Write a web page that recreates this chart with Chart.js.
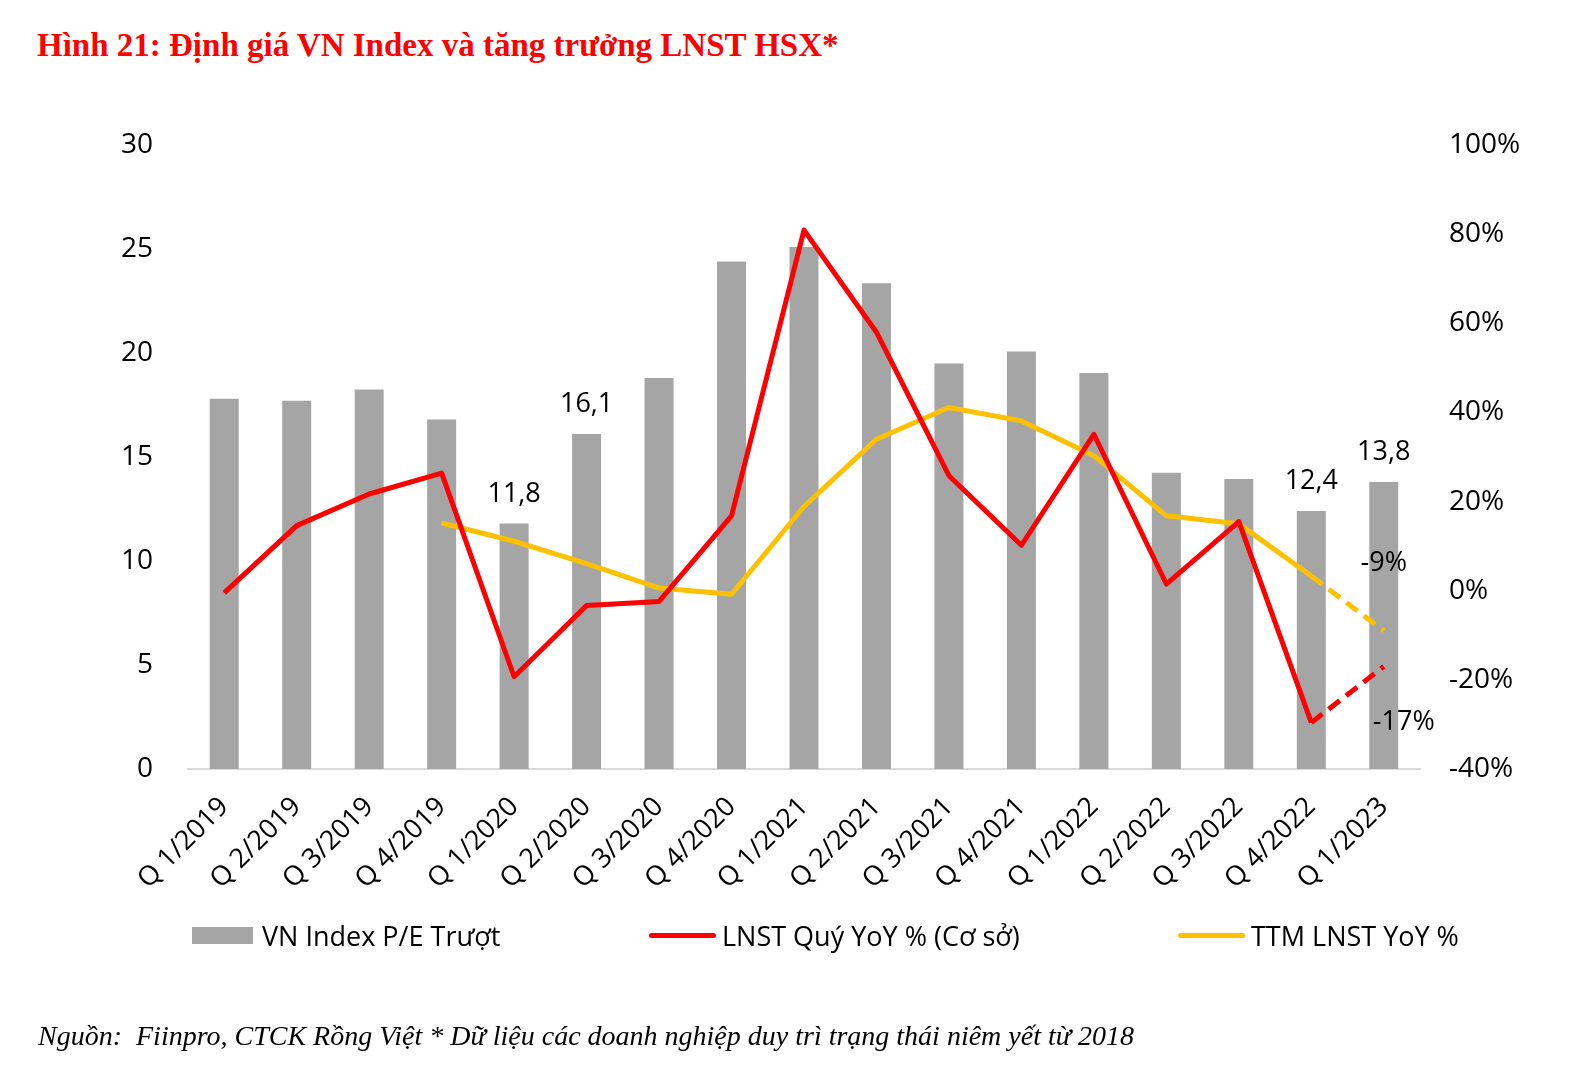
<!DOCTYPE html>
<html>
<head>
<meta charset="utf-8">
<script src="https://cdn.jsdelivr.net/npm/chart.js@4.4.1/dist/chart.umd.min.js"></script>
<style>
  body { margin: 0; background: #fff; overflow: hidden; }
  #khung { position: relative; width: 1596px; height: 1086px; }
  #tieuDe { position: absolute; left: 37px; top: 27px; font: bold 33px "Liberation Serif", serif; color: #ff0000; white-space: nowrap; }
  #nguon { position: absolute; left: 38px; top: 1020px; font: italic 28px "Liberation Serif", serif; color: #000; white-space: nowrap; }
  #chuGiai .muc { position: absolute; top: 916px; height: 38px; display: flex; align-items: center; font: 27px "Open Sans", sans-serif; color: #000; white-space: nowrap; }
  canvas { position: absolute; left: 0; top: 0; }
</style>
</head>
<body>
<div id="khung">
  <div id="tieuDe">Hình 21: Định giá VN Index và tăng trưởng LNST HSX*</div>
  <canvas id="bieuDo" width="1596" height="1086"></canvas>
  <div id="chuGiai"></div>
  <div id="nguon">Nguồn:&nbsp; Fiinpro, CTCK Rồng Việt * Dữ liệu các doanh nghiệp duy trì trạng thái niêm yết từ 2018</div>
</div>
<script>
// Cac quy
var quy = ['Q 1/2019', 'Q 2/2019', 'Q 3/2019', 'Q 4/2019', 'Q 1/2020', 'Q 2/2020', 'Q 3/2020', 'Q 4/2020',
           'Q 1/2021', 'Q 2/2021', 'Q 3/2021', 'Q 4/2021', 'Q 1/2022', 'Q 2/2022', 'Q 3/2022', 'Q 4/2022', 'Q 1/2023'];

// P/E truot (truc trai)
var peTruot = [17.8, 17.7, 18.25, 16.8, 11.8, 16.1, 18.8, 24.4, 25.1, 23.35, 19.5, 20.07, 19.04, 14.24, 13.94, 12.4, 13.8];

// LNST quy YoY % (truc phai)
var lnstQuy = [-0.5, 14.6, 21.7, 26.4, -19.3, -3.3, -2.4, 16.8, 80.9, 58, 25.8, 10.2, 35.1, 1.5, 15.5, -29.6, -17];

// TTM LNST YoY %
var lnstTTM = [null, null, null, 15.2, 11.1, 6.1, 0.6, -0.8, 18.9, 34, 41.1, 38.1, 30.3, 16.8, 15, 3.3, -9];

// Nhan cot
var cotCoNhan = [4, 5, 15, 16];

var tenCot = 'VN Index P/E Trượt';
var tenQuy = 'LNST Quý YoY % (Cơ sở)';
var tenTTM = 'TTM LNST YoY %';

var mauCot = '#a5a5a5';
var mauDo = '#ff0000';
var mauVang = '#ffc000';

var fontChu = '"Open Sans", sans-serif';

// doan cuoi la net dut
function netDut(ctx) {
    return ctx.p1DataIndex === quy.length - 1 ? [14, 8] : undefined;
}

function soVN(v) {
    return String(v).replace('.', ',');
}

// plugin ve nhan so lieu
var nhanSoLieu = {
    id: 'nhanSoLieu',
    afterDatasetsDraw: function(chart) {
        var ctx = chart.ctx;
        ctx.save();
        ctx.fillStyle = '#000';
        ctx.font = '27px ' + fontChu;
        ctx.textAlign = 'center';
        ctx.textBaseline = 'alphabetic';

        var metaCot = chart.getDatasetMeta(2);
        for (let i = 0; i < cotCoNhan.length; i++) {
            let el = metaCot.data[cotCoNhan[i]];
            ctx.fillText(soVN(peTruot[cotCoNhan[i]]), el.x, el.y - 22);
        }

        var cuoi = quy.length - 1;
        ctx.textBaseline = 'middle';
        var diemVang = chart.getDatasetMeta(1).data[cuoi];
        ctx.fillText(lnstTTM[cuoi] + '%', diemVang.x, diemVang.y - 68);
        var diemDo = chart.getDatasetMeta(0).data[cuoi];
        ctx.fillText(lnstQuy[cuoi] + '%', diemDo.x + 20, diemDo.y + 56);
        ctx.restore();
    }
};

var chart = new Chart(document.getElementById('bieuDo'), {
    data: {
        labels: quy,
        datasets: [
            {
                type: 'line',
                label: tenQuy,
                data: lnstQuy,
                yAxisID: 'y1',
                borderColor: mauDo,
                borderWidth: 5,
                borderJoinStyle: 'round',
                pointRadius: 0,
                tension: 0,
                order: 1,
                segment: { borderDash: netDut }
            },
            {
                type: 'line',
                label: tenTTM,
                data: lnstTTM,
                yAxisID: 'y1',
                borderColor: mauVang,
                borderWidth: 5,
                borderJoinStyle: 'round',
                pointRadius: 0,
                tension: 0,
                order: 2,
                segment: { borderDash: netDut }
            },
            {
                type: 'bar',
                label: tenCot,
                data: peTruot,
                yAxisID: 'y',
                backgroundColor: mauCot,
                barPercentage: 0.4,
                categoryPercentage: 1,
                order: 3
            }
        ]
    },
    options: {
        responsive: false,
        animation: false,
        layout: { padding: { top: 145, bottom: 1086 - 769 - 130, left: 0, right: 0 } },
        plugins: {
            legend: { display: false },
            tooltip: { enabled: false }
        },
        scales: {
            x: {
                grid: { display: false },
                border: { display: true, color: '#d9d9d9', width: 2 },
                ticks: {
                    color: '#000',
                    font: { family: fontChu, size: 27 },
                    maxRotation: 45,
                    minRotation: 45,
                    autoSkip: false,
                    padding: 14
                },
                afterFit: function(s) {
                    s.height = 130;
                    s.paddingLeft = 0;
                    s.paddingRight = 0;
                }
            },
            y: {
                position: 'left',
                min: 0,
                max: 30,
                grid: { display: false, drawTicks: false },
                border: { display: false },
                ticks: { stepSize: 5, color: '#000', font: { family: fontChu, size: 28 }, padding: 35 },
                afterFit: function(s) {
                    s.width = 188;
                    s.paddingTop = 0;
                    s.paddingBottom = 0;
                }
            },
            y1: {
                position: 'right',
                min: -40,
                max: 100,
                grid: { display: false, drawTicks: false },
                border: { display: false },
                ticks: {
                    stepSize: 20,
                    color: '#000',
                    font: { family: fontChu, size: 28 },
                    padding: 29,
                    callback: function(v) { return v + '%'; }
                },
                afterFit: function(s) {
                    s.width = 176;
                    s.paddingTop = 0;
                    s.paddingBottom = 0;
                }
            }
        }
    },
    plugins: [nhanSoLieu]
});

// chu giai
var viTriChuGiai = [192, 649, 1178];
var chuGiai = document.getElementById('chuGiai');
var thuTu = [2, 0, 1];
for (let i = 0; i < thuTu.length; i++) {
    let ds = chart.data.datasets[thuTu[i]];
    let muc = document.createElement('div');
    muc.className = 'muc';
    muc.style.left = viTriChuGiai[i] + 'px';
    let ky = document.createElement('span');
    if (ds.type === 'bar') {
        ky.style.cssText = 'display:inline-block;width:61px;height:17px;margin-right:9px;background:' + ds.backgroundColor;
    } else {
        ky.style.cssText = 'display:inline-block;width:67px;height:5px;border-radius:3px;margin-right:6px;background:' + ds.borderColor;
    }
    muc.appendChild(ky);
    muc.appendChild(document.createTextNode(ds.label));
    chuGiai.appendChild(muc);
}
</script>
</body>
</html>
